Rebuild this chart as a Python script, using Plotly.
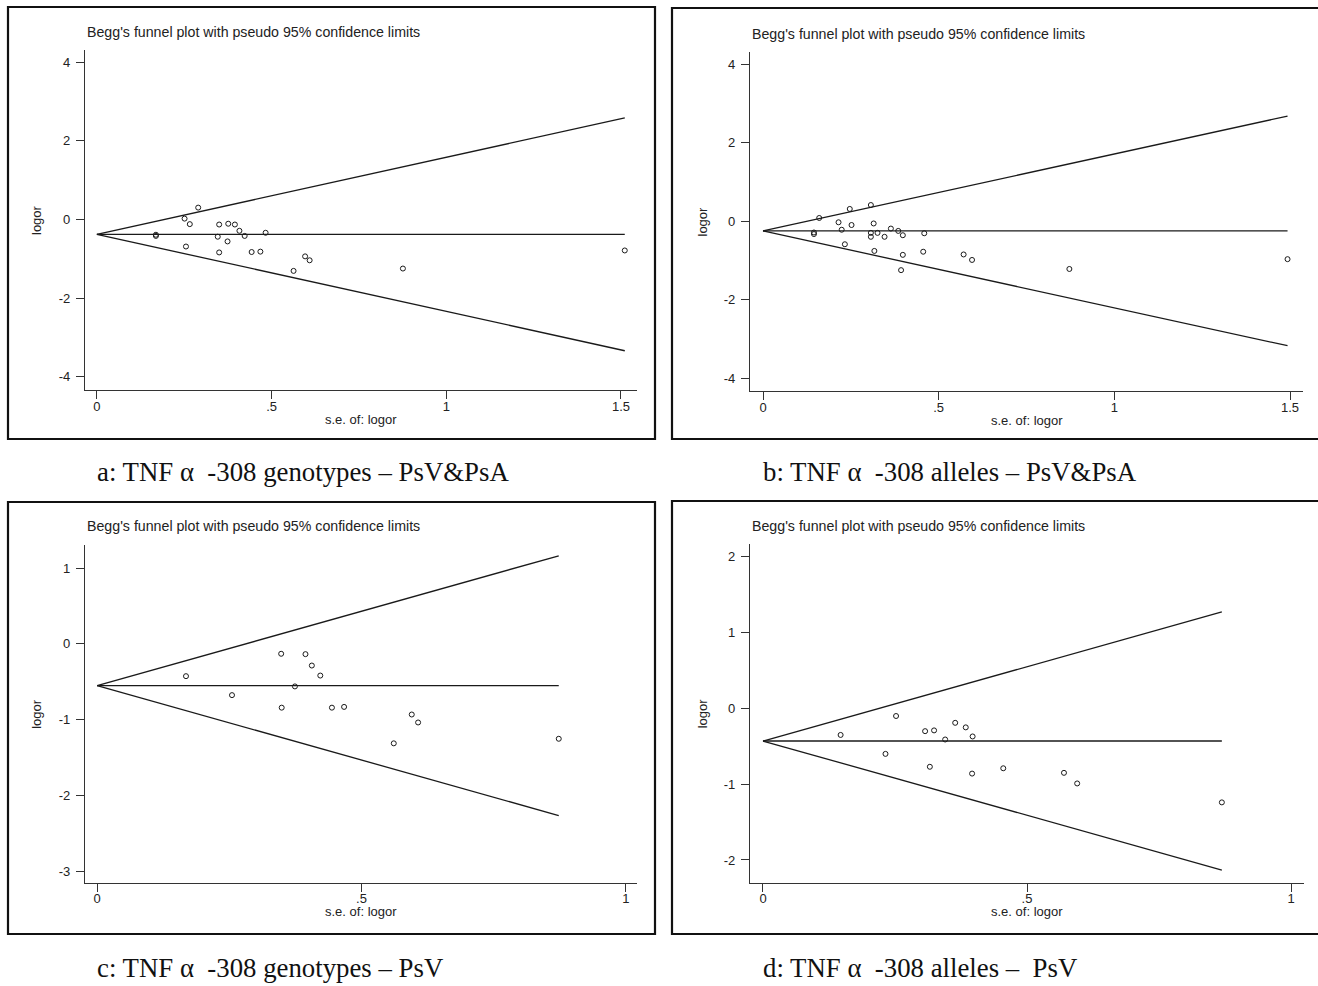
import plotly.graph_objects as go

W, H = 1318, 986

# ---------------- data ----------------
se_a = [0.290, 0.251, 0.266, 0.169, 0.169, 0.350, 0.376, 0.395, 0.408, 0.423, 0.346,
        0.483, 0.374, 0.255, 0.350, 0.443, 0.468, 0.596, 0.609, 0.563, 0.876, 1.511]
lo_a = [0.30, 0.02, -0.12, -0.39, -0.42, -0.13, -0.11, -0.13, -0.29, -0.42, -0.44,
        -0.34, -0.56, -0.69, -0.84, -0.83, -0.82, -0.94, -1.04, -1.31, -1.25, -0.79]
pooled_a = -0.38

se_b = [0.160, 0.247, 0.307, 0.215, 0.252, 0.315, 0.224, 0.145, 0.145, 0.307, 0.326,
        0.307, 0.346, 0.364, 0.385, 0.398, 0.459, 0.233, 0.317, 0.398, 0.456, 0.571,
        0.595, 0.393, 0.872, 1.493]
lo_b = [0.08, 0.31, 0.41, -0.03, -0.10, -0.06, -0.22, -0.29, -0.33, -0.30, -0.30,
        -0.40, -0.40, -0.19, -0.25, -0.36, -0.31, -0.59, -0.76, -0.86, -0.78, -0.85,
        -0.99, -1.25, -1.22, -0.97]
pooled_b = -0.25

se_c = [0.168, 0.255, 0.348, 0.394, 0.406, 0.422, 0.374, 0.349, 0.444, 0.467, 0.595,
        0.607, 0.561, 0.873]
lo_c = [-0.425, -0.675, -0.13, -0.135, -0.285, -0.417, -0.56, -0.84, -0.84, -0.83,
        -0.93, -1.035, -1.31, -1.25]
pooled_c = -0.55

se_d = [0.147, 0.252, 0.232, 0.307, 0.324, 0.364, 0.384, 0.397, 0.345, 0.316, 0.396,
        0.455, 0.570, 0.595, 0.869]
lo_d = [-0.35, -0.10, -0.60, -0.30, -0.29, -0.19, -0.25, -0.37, -0.41, -0.77, -0.86,
        -0.79, -0.85, -0.99, -1.24]
pooled_d = -0.43

xtick_vals_ab = [0, 0.5, 1, 1.5]
xtick_text_ab = ["0", ".5", "1", "1.5"]
xtick_vals_cd = [0, 0.5, 1]
xtick_text_cd = ["0", ".5", "1"]
ytick_vals_ab = [4, 2, 0, -2, -4]
ytick_text_ab = ["4", "2", "0", "-2", "-4"]
ytick_vals_c = [1, 0, -1, -2, -3]
ytick_text_c = ["1", "0", "-1", "-2", "-3"]
ytick_vals_d = [2, 1, 0, -1, -2]
ytick_text_d = ["2", "1", "0", "-1", "-2"]

plot_title = "Begg's funnel plot with pseudo 95% confidence limits"
x_title = "s.e. of: logor"
y_title = "logor"
captions = ["a: TNF α  -308 genotypes – PsV&PsA",
            "b: TNF α  -308 alleles – PsV&PsA",
            "c: TNF α  -308 genotypes – PsV",
            "d: TNF α  -308 alleles –  PsV"]

# ---------------- layout helpers ----------------
def px(x):
    return x / W

def py(y):
    return 1 - y / H

SANS = "Liberation Sans, Arial, sans-serif"
SERIF = "Liberation Serif, Times New Roman, serif"
INK = "#1a1a1a"

fig = go.Figure()

panels = [
    dict(se=se_a, lo=lo_a, pooled=pooled_a, xd=(85, 637), yd=(50, 390),
         xr=(-0.034, 1.546), yr=(-4.34, 4.31), xt=(xtick_vals_ab, xtick_text_ab),
         yt=(ytick_vals_ab, ytick_text_ab), frame=(8, 7, 655, 439), title_y=32,
         cap=(95, 472)),
    dict(se=se_b, lo=lo_b, pooled=pooled_b, xd=(750, 1303), yd=(52, 391),
         xr=(-0.037, 1.537), yr=(-4.33, 4.31), xt=(xtick_vals_ab, xtick_text_ab),
         yt=(ytick_vals_ab, ytick_text_ab), frame=(672, 8, 1325, 439), title_y=34,
         cap=(761, 472)),
    dict(se=se_c, lo=lo_c, pooled=pooled_c, xd=(85, 637), yd=(545, 882.7),
         xr=(-0.023, 1.021), yr=(-3.146, 1.303), xt=(xtick_vals_cd, xtick_text_cd),
         yt=(ytick_vals_c, ytick_text_c), frame=(8, 502, 655, 934), title_y=526,
         cap=(95, 968)),
    dict(se=se_d, lo=lo_d, pooled=pooled_d, xd=(750, 1303.7), yd=(544, 882.7),
         xr=(-0.0246, 1.024), yr=(-2.30, 2.17), xt=(xtick_vals_cd, xtick_text_cd),
         yt=(ytick_vals_d, ytick_text_d), frame=(672, 501, 1325, 934), title_y=526,
         cap=(761, 968)),
]

annotations = []
shapes = []

for i, p in enumerate(panels, start=1):
    xa = "x" if i == 1 else f"x{i}"
    ya = "y" if i == 1 else f"y{i}"
    se, lo, pooled = p["se"], p["lo"], p["pooled"]
    smax = max(se)
    # pooled estimate line
    fig.add_trace(go.Scatter(x=[0, smax], y=[pooled, pooled], mode="lines",
                             line=dict(color=INK, width=1.3), xaxis=xa, yaxis=ya,
                             showlegend=False, hoverinfo="skip"))
    # pseudo 95% limits
    fig.add_trace(go.Scatter(x=[0, smax], y=[pooled, pooled + 1.96 * smax], mode="lines",
                             line=dict(color=INK, width=1.3), xaxis=xa, yaxis=ya,
                             showlegend=False, hoverinfo="skip"))
    fig.add_trace(go.Scatter(x=[0, smax], y=[pooled, pooled - 1.96 * smax], mode="lines",
                             line=dict(color=INK, width=1.3), xaxis=xa, yaxis=ya,
                             showlegend=False, hoverinfo="skip"))
    # studies
    fig.add_trace(go.Scatter(x=se, y=lo, mode="markers",
                             marker=dict(symbol="circle-open", size=5, color=INK,
                                         line=dict(width=1.0, color=INK)),
                             xaxis=xa, yaxis=ya, showlegend=False))

    axis_common = dict(showline=True, linecolor="#333333", linewidth=1.3,
                       ticks="outside", ticklen=8, tickwidth=1.3, tickcolor="#333333",
                       showgrid=False, zeroline=False,
                       tickfont=dict(family=SANS, size=13, color="#222222"))
    xkey = "xaxis" if i == 1 else f"xaxis{i}"
    ykey = "yaxis" if i == 1 else f"yaxis{i}"
    fig.update_layout(**{
        xkey: dict(domain=[px(p["xd"][0]), px(p["xd"][1])], range=list(p["xr"]),
                   anchor=ya, tickmode="array", tickvals=p["xt"][0], ticktext=p["xt"][1],
                   ticklabelstandoff=-4, **axis_common),
        ykey: dict(domain=[py(p["yd"][1]), py(p["yd"][0])], range=list(p["yr"]),
                   anchor=xa, tickmode="array", tickvals=p["yt"][0], ticktext=p["yt"][1],
                   ticklabelstandoff=3, **axis_common),
    })

    # frame
    fx0, fy0, fx1, fy1 = p["frame"]
    shapes.append(dict(type="rect", xref="paper", yref="paper",
                       x0=px(fx0), x1=px(fx1), y0=py(fy1), y1=py(fy0),
                       line=dict(color="#111111", width=2.2), fillcolor="rgba(0,0,0,0)"))
    # plot title
    annotations.append(dict(text=plot_title, xref="paper", yref="paper",
                            x=px(p["xd"][0]), y=py(p["title_y"]), xanchor="left",
                            yanchor="middle", showarrow=False,
                            font=dict(family=SANS, size=14.2, color="#222222")))
    # axis titles
    xc = (p["xd"][0] + p["xd"][1]) / 2
    annotations.append(dict(text=x_title, xref="paper", yref="paper",
                            x=px(xc), y=py(p["yd"][1] + 29), xanchor="center",
                            yanchor="middle", showarrow=False,
                            font=dict(family=SANS, size=13, color="#222222")))
    yc = (p["yd"][0] + p["yd"][1]) / 2
    annotations.append(dict(text=y_title, xref="paper", yref="paper",
                            x=px(p["xd"][0] - 48), y=py(yc), xanchor="center",
                            yanchor="middle", textangle=-90, showarrow=False,
                            font=dict(family=SANS, size=13, color="#222222")))
    # caption
    annotations.append(dict(text=captions[i - 1], xref="paper", yref="paper",
                            x=px(p["cap"][0]), y=py(p["cap"][1]), xanchor="left",
                            yanchor="middle", showarrow=False,
                            font=dict(family=SERIF, size=26.8, color="#111111")))

fig.update_layout(width=W, height=H, autosize=False,
                  margin=dict(l=0, r=0, t=0, b=0, pad=0),
                  paper_bgcolor="white", plot_bgcolor="white",
                  annotations=annotations, shapes=shapes, showlegend=False)

fig.write_html("out.html", config={"displayModeBar": False},
               post_script="document.body.style.margin='0';document.body.style.overflow='hidden';")
